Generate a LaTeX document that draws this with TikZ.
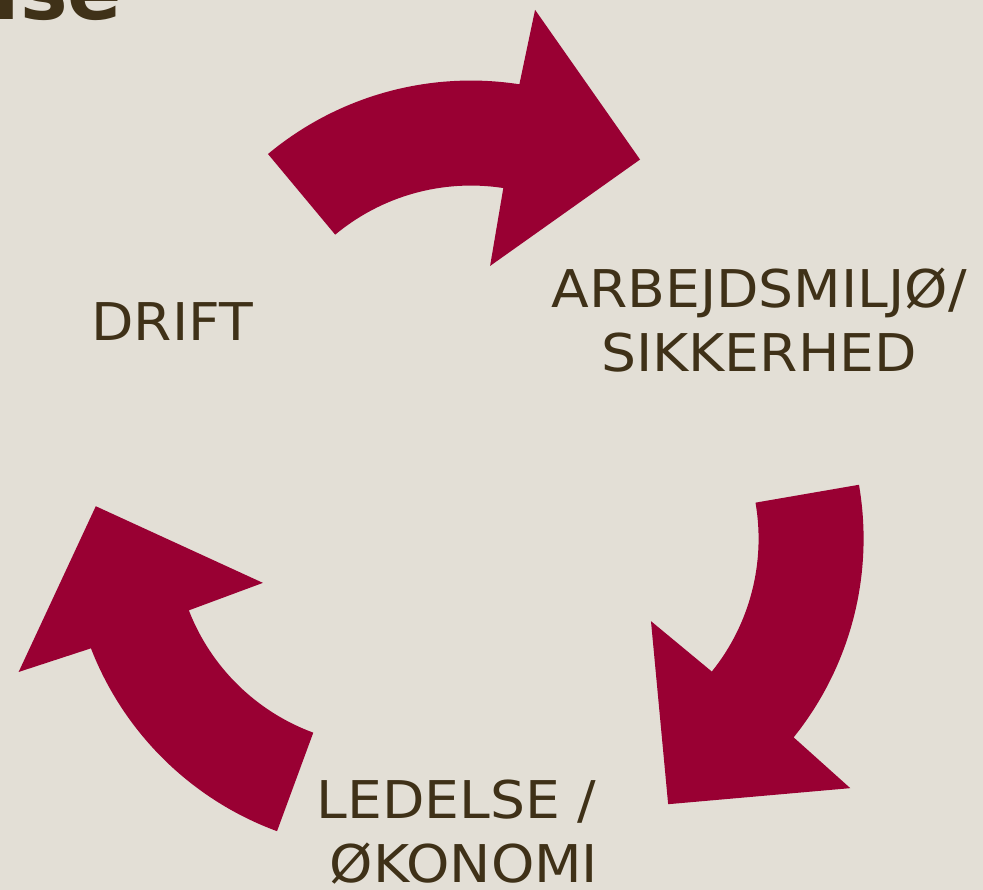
\documentclass[tikz,border=0pt]{standalone}
\usepackage{fontspec}
\setmainfont{DejaVu Sans}
\newfontfamily\labelfont[FakeStretch=1.06]{DejaVu Sans}
\definecolor{cbg}{HTML}{E3DFD6}
\definecolor{cred}{HTML}{990033}
\definecolor{ctext}{HTML}{3F3118}
\tikzset{
  every picture/.style={line width=1pt},
  cyclelabel/.style={text=ctext, font=\labelfont\fontsize{14.8}{18.2}\selectfont, align=center, inner sep=0pt},
  cyclearrow/.style={fill=cred, draw=none},
}

\begin{document}
\begin{tikzpicture}
  \fill[cbg] (0,0) rectangle (9.83,-8.90);
  \useasboundingbox (0,0) rectangle (9.83,-8.90);
  \clip (0,0) rectangle (9.83,-8.90);
  \node[text=ctext, font=\bfseries\fontsize{22.8}{27}\selectfont, anchor=base east, inner sep=0pt] (title) at (1.24,-0.20) {ise};
  % three curved arrows, each turned 120 degrees further
  \foreach \a in {0,-120,-240}{
    \begin{scope}[shift={(4.68,-4.90)}, rotate=\a, shift={(88.2:0.925)}]
      \path[cyclearrow] (129.8:3.17) arc[start angle=129.8, end angle=81.2, radius=3.17]
        -- (80.6:3.93) -- (54.6:2.92) -- (81.7:1.33) -- (81.2:2.12)
        arc[start angle=81.2, end angle=129.8, radius=2.12] -- cycle;
    \end{scope}
  }
  \node[cyclelabel] (drift) at (1.72,-3.22) {DRIFT};
  \node[cyclelabel] (safety) at (7.59,-3.20) {ARBEJDSMILJØ/\\SIKKERHED};
  \node[cyclelabel] (economy) at (4.64,-8.32) {LEDELSE /\hspace*{0.3em}\\ØKONOMI};
\end{tikzpicture}
\end{document}
